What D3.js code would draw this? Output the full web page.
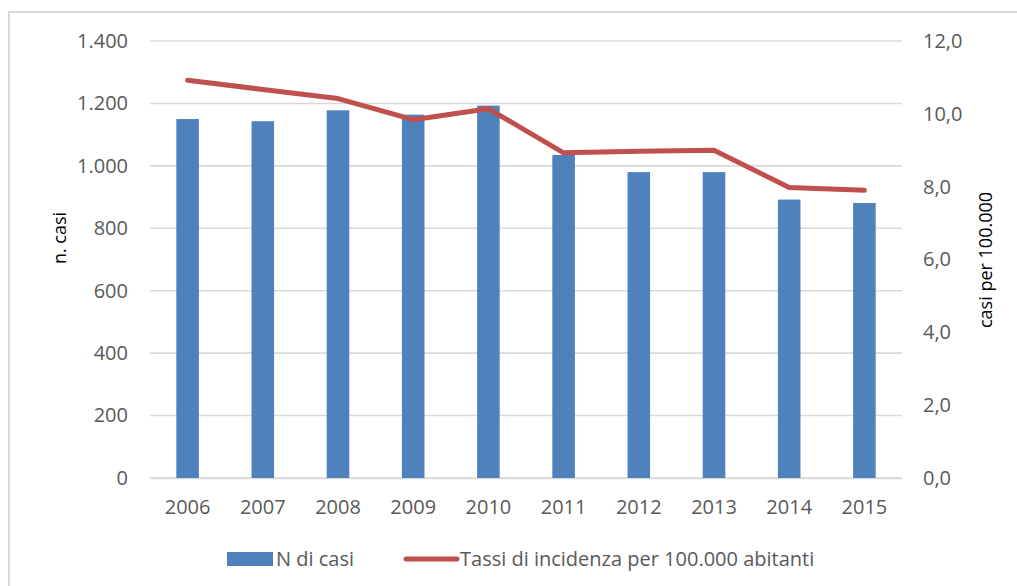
<!DOCTYPE html>
<html>
<head>
<meta charset="utf-8">
<script src="https://cdn.jsdelivr.net/npm/d3@7"></script>
<style>
  html, body { margin: 0; padding: 0; background: #fff; }
  svg { display: block; }
  text { font-family: "Open Sans", "Liberation Sans", sans-serif; }
</style>
</head>
<body>
<svg id="chart" width="1017" height="586"></svg>
<script>
// Cases per year and incidence rate per 100,000 inhabitants
const years = ["2006", "2007", "2008", "2009", "2010", "2011", "2012", "2013", "2014", "2015"];
const cases = [1150, 1143, 1178, 1164, 1193, 1035, 980, 980, 892, 881];
const rates = [10.92, 10.67, 10.42, 9.84, 10.14, 8.93, 8.97, 9.0, 7.98, 7.90];
const leftTicks = [0, 200, 400, 600, 800, 1000, 1200, 1400];
const rightTicks = [0, 2, 4, 6, 8, 10, 12];
const seriesNames = ["N di casi", "Tassi di incidenza per 100.000 abitanti"];
const axisTitles = ["n. casi", "casi per 100.000"];

const barColor = "#4F81BD";
const lineColor = "#C0504D";
const gridColor = "#D9D9D9";
const labelColor = "#595959";

const it = d3.formatLocale({ decimal: ",", thousands: ".", grouping: [3], currency: ["€", ""] });
const fmtLeft = it.format(",d");
const fmtRight = it.format(",.1f");

const svg = d3.select("#chart");
const plot = { left: 150, right: 902, top: 41, bottom: 478 };

// outer frame
svg.append("rect")
  .attr("x", 9).attr("y", 12)
  .attr("width", 1030).attr("height", 600)
  .attr("fill", "none").attr("stroke", gridColor).attr("stroke-width", 2);

const x = d3.scaleBand().domain(years)
  .range([plot.left, plot.right])
  .paddingInner(0.7).paddingOuter(0.35);
const yL = d3.scaleLinear().domain([0, 1400]).range([plot.bottom, plot.top]);
const yR = d3.scaleLinear().domain([0, 12]).range([plot.bottom, plot.top]);

// gridlines
svg.append("g")
  .selectAll("line").data(leftTicks).join("line")
  .attr("x1", plot.left).attr("x2", plot.right)
  .attr("y1", d => yL(d)).attr("y2", d => yL(d))
  .attr("stroke", gridColor).attr("stroke-width", 1.6);

// left axis labels
const axL = svg.append("g").attr("transform", `translate(${plot.left},0)`)
  .call(d3.axisLeft(yL).tickValues(leftTicks).tickFormat(fmtLeft).tickSize(0).tickPadding(22));
axL.select(".domain").remove();
axL.selectAll("text").attr("fill", labelColor).style("font-size", "20px")
  .style("font-family", "'Open Sans', sans-serif");

// right axis labels
const axR = svg.append("g").attr("transform", `translate(${plot.right},0)`)
  .call(d3.axisRight(yR).tickValues(rightTicks).tickFormat(fmtRight).tickSize(0).tickPadding(21));
axR.select(".domain").remove();
axR.selectAll("text").attr("fill", labelColor).style("font-size", "20px")
  .style("font-family", "'Open Sans', sans-serif");

// category axis
const axX = svg.append("g").attr("transform", `translate(0,${plot.bottom})`)
  .call(d3.axisBottom(x).tickSize(0).tickPadding(22));
axX.select(".domain").attr("stroke", gridColor).attr("stroke-width", 1.6);
axX.selectAll("text").attr("fill", labelColor).style("font-size", "20px")
  .style("font-family", "'Open Sans', sans-serif");

// bars
svg.append("g")
  .selectAll("rect").data(years).join("rect")
  .attr("x", d => x(d))
  .attr("width", x.bandwidth())
  .attr("y", (d, i) => yL(cases[i]))
  .attr("height", (d, i) => yL(0) - yL(cases[i]))
  .attr("fill", barColor);

// incidence line
const line = d3.line()
  .x((d, i) => x(years[i]) + x.bandwidth() / 2)
  .y(d => yR(d));
svg.append("path")
  .datum(rates)
  .attr("d", line)
  .attr("fill", "none")
  .attr("stroke", lineColor)
  .attr("stroke-width", 5)
  .attr("stroke-linejoin", "round")
  .attr("stroke-linecap", "round");

// axis titles
svg.append("text")
  .attr("transform", "translate(66,238) rotate(-90)")
  .attr("text-anchor", "middle")
  .attr("fill", "#000")
  .style("font-size", "18px")
  .text(axisTitles[0]);
svg.append("text")
  .attr("transform", "translate(992,260) rotate(-90)")
  .attr("text-anchor", "middle")
  .attr("fill", "#000")
  .style("font-size", "18px")
  .text(axisTitles[1]);

// legend
const lg = svg.append("g").attr("transform", "translate(0,559)");
lg.append("rect").attr("x", 227).attr("y", -7).attr("width", 46).attr("height", 14).attr("fill", barColor);
lg.append("text").attr("x", 276).attr("dy", "0.35em").attr("fill", labelColor)
  .style("font-size", "20px").text(seriesNames[0]);
lg.append("line").attr("x1", 406).attr("x2", 457).attr("y1", 0).attr("y2", 0)
  .attr("stroke", lineColor).attr("stroke-width", 5).attr("stroke-linecap", "round");
lg.append("text").attr("x", 460).attr("dy", "0.35em").attr("fill", labelColor)
  .style("font-size", "20px").text(seriesNames[1]);
</script>
</body>
</html>
